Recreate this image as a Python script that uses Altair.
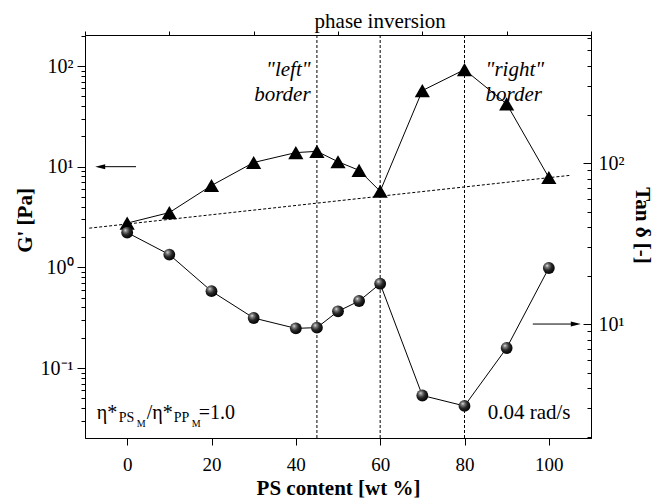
import altair as alt
import pandas as pd

# ---- data ----
ps_content = [0, 10, 20, 30, 40, 45, 50, 55, 60, 70, 80, 90, 100]
g_prime = [2.75, 3.5, 6.5, 11.0, 13.8, 14.2, 11.2, 9.2, 5.7, 57, 92, 42, 7.8]
tan_delta = [37, 27, 16, 10.9, 9.4, 9.5, 12.0, 13.9, 17.8, 3.6, 3.1, 7.1, 22.3]

border_x = [45, 60, 80]
mix_x = [-9, 105]
mix_g = [2.45, 8.2]

left_arrow_x = [-6.4, 2.1]
left_arrow_y = [10]
right_arrow_x = [96.2, 106.4]
right_arrow_y = [10]

top_label = ["phase inversion"]
top_label_x = [60]
top_label_y = [273]

left_border_text = ['"left"', "border"]
left_border_x = [43.5, 43.5]
left_border_y = [91, 51.5]
right_border_text = ['"right"', "border"]
right_border_x = [85, 85]
right_border_y = [91, 51.5]

freq_text = ["0.04 rad/s"]
freq_x = [85.5]
freq_y = [0.0358]

eta_x = [-7.2]
eta_y = [0.0358]
eta_pieces = ["η*", "PS", "M", "/η*", "PP", "M", "=1.0"]

x_major = [0, 20, 40, 60, 80, 100]
x_minor = [-10, 10, 30, 50, 70, 90, 110]
yl_dom = [10 ** -1.695, 10 ** 2.308]
yr_dom = [1.96, 624]
left_major = [0.1, 1, 10, 100]
left_minor = [m * 10.0 ** e for e in range(-2, 3) for m in range(2, 10)]
left_minor = [v for v in left_minor if yl_dom[0] <= v <= yl_dom[1]]
right_major = [10, 100]
right_minor = [m * 10.0 ** e for e in range(0, 3) for m in range(2, 10)]
right_minor = [v for v in right_minor if yr_dom[0] <= v <= yr_dom[1]]

# ---- styles ----
FONT = "Liberation Serif"
eta_dx = [0, 22, 40, 50, 77, 95, 102]
eta_dy = [0, 5, 11, 0, 5, 11, 0]
eta_size = [20, 14, 10, 20, 14, 10, 20]

xs = alt.Scale(domain=[-10, 110], nice=False, zero=False)
yls = alt.Scale(type="log", domain=yl_dom, nice=False)
yrs = alt.Scale(type="log", domain=yr_dom, nice=False)

lg = "round(log(datum.value)/LN10)"
log_label = (f"'10' + ({lg} == -1 ? '⁻¹' : {lg} == 0 ? '⁰' : "
             f"{lg} == 1 ? '¹' : {lg} == 2 ? '²' : '')")

common = dict(grid=False, domainColor="black", tickColor="black",
              labelFont=FONT, labelColor="black", labelFontSize=20,
              labelOverlap=False, labelFlush=False,
              titleFont=FONT, titleFontSize=21, titleFontWeight="bold",
              titleColor="black")

x_axis = alt.Axis(values=x_major, title="PS content [wt %]", tickSize=7,
                  labelPadding=10, titleY=50, titleBaseline="middle",
                  **{**common, "labelFontSize": 19})
x_axis_minor = alt.Axis(values=x_minor, title=None, labels=False, domain=False,
                        tickSize=4, grid=False, tickColor="black")
yl_axis = alt.Axis(values=left_major, title="G' [Pa]", orient="left",
                   labelExpr=log_label, tickSize=8, labelPadding=4,
                   titleX=-60, titleY=185, titleBaseline="middle", titleAngle=-90,
                   **common)
yl_axis_minor = alt.Axis(values=left_minor, title=None, orient="left", labels=False,
                         domain=False, tickSize=4, grid=False, tickColor="black")
yr_axis = alt.Axis(values=right_major, title="Tan δ [-]", orient="right",
                   labelExpr=log_label, tickSize={"expr": "-8"}, labelPadding=15,
                   titleX=50, titleY=190, titleBaseline="middle", titleAngle=90,
                   **common)
yr_axis_minor = alt.Axis(values=right_minor, title=None, orient="right", labels=False,
                         domain=False, tickSize={"expr": "-4"}, grid=False,
                         tickColor="black")

main = pd.DataFrame({"ps": ps_content, "g": g_prime, "tan": tan_delta})
base = alt.Chart(main)

# ---- G' (left axis) ----
tri_line = base.mark_line(color="black", strokeWidth=1).encode(
    x=alt.X("ps:Q", scale=xs, axis=x_axis),
    y=alt.Y("g:Q", scale=yls, axis=yl_axis),
)
tri_minor = base.mark_point(opacity=0).encode(
    x=alt.X("ps:Q", scale=xs, axis=x_axis_minor),
    y=alt.Y("g:Q", scale=yls, axis=yl_axis_minor),
)
tri_pts = base.mark_point(
    shape="triangle-up", filled=True, color="black", size=230, opacity=1
).encode(
    x=alt.X("ps:Q", scale=xs, axis=None),
    y=alt.Y("g:Q", scale=yls, axis=None),
)
mix = alt.Chart(pd.DataFrame({"x": mix_x, "g": mix_g})).mark_line(
    color="black", strokeWidth=1, strokeDash=[3, 2]
).encode(
    x=alt.X("x:Q", scale=xs, axis=None),
    y=alt.Y("g:Q", scale=yls, axis=None),
)
vlines = alt.Chart(pd.DataFrame({"x": border_x})).mark_rule(
    color="black", strokeWidth=1, strokeDash=[3, 2]
).encode(x=alt.X("x:Q", scale=xs, axis=None))

la = pd.DataFrame({"x": [left_arrow_x[0]], "x2": [left_arrow_x[1]], "y": left_arrow_y})
l_shaft = alt.Chart(la).mark_rule(color="black", strokeWidth=1).encode(
    x=alt.X("x:Q", scale=xs, axis=None), x2="x2:Q",
    y=alt.Y("y:Q", scale=yls, axis=None),
)
l_head = alt.Chart(la).mark_point(
    shape="M-1,0L1,-0.5L1,0.5Z", filled=True, color="black", size=100, opacity=1
).encode(
    x=alt.X("x:Q", scale=xs, axis=None),
    y=alt.Y("y:Q", scale=yls, axis=None),
)

def txt(texts, xv, yv, align, style, scale, size=21, dx=0, dy=0):
    df = pd.DataFrame({"x": xv, "y": yv, "t": texts})
    return alt.Chart(df).mark_text(
        font=FONT, fontSize=size, fontStyle=style, align=align,
        baseline="middle", color="black", dx=dx, dy=dy,
    ).encode(
        x=alt.X("x:Q", scale=xs, axis=None),
        y=alt.Y("y:Q", scale=scale, axis=None),
        text="t:N",
    )

t_top = txt(top_label, top_label_x, top_label_y, "center", "normal", yls)
t_lb = txt(left_border_text, left_border_x, left_border_y, "right", "italic", yls)
t_rb = txt(right_border_text, right_border_x, right_border_y, "left", "italic", yls)
t_fr = txt(freq_text, freq_x, freq_y, "left", "normal", yls)
eta_layers = [
    txt([p], eta_x, eta_y, "left", "normal", yls, size=s, dx=d, dy=v)
    for p, d, v, s in zip(eta_pieces, eta_dx, eta_dy, eta_size)
]

# ---- tan delta (right axis) ----
sphere = {
    "gradient": "radial",
    "x1": 0.35, "y1": 0.3, "r1": 0.0,
    "x2": 0.4, "y2": 0.38, "r2": 0.65,
    "stops": [
        {"offset": 0.0, "color": "#f2f2f2"},
        {"offset": 0.18, "color": "#8a8a8a"},
        {"offset": 0.55, "color": "#262626"},
        {"offset": 1.0, "color": "#000000"},
    ],
}
circ_line = base.mark_line(color="black", strokeWidth=1).encode(
    x=alt.X("ps:Q", scale=xs, axis=None),
    y=alt.Y("tan:Q", scale=yrs, axis=yr_axis),
)
circ_minor = base.mark_point(opacity=0).encode(
    x=alt.X("ps:Q", scale=xs, axis=None),
    y=alt.Y("tan:Q", scale=yrs, axis=yr_axis_minor),
)
circ_pts = base.mark_point(
    shape="circle", filled=True, fill=sphere, size=140, opacity=1, strokeWidth=0
).encode(
    x=alt.X("ps:Q", scale=xs, axis=None),
    y=alt.Y("tan:Q", scale=yrs, axis=None),
)
ra = pd.DataFrame({"x": [right_arrow_x[0]], "x2": [right_arrow_x[1]], "y": right_arrow_y})
r_shaft = alt.Chart(ra).mark_rule(color="black", strokeWidth=1).encode(
    x=alt.X("x:Q", scale=xs, axis=None), x2="x2:Q",
    y=alt.Y("y:Q", scale=yrs, axis=None),
)
r_head = alt.Chart(ra).mark_point(
    shape="M1,0L-1,-0.5L-1,0.5Z", filled=True, color="black", size=100, opacity=1
).encode(
    x=alt.X("x2:Q", scale=xs, axis=None),
    y=alt.Y("y:Q", scale=yrs, axis=None),
)

chart = alt.layer(
    vlines, mix, tri_line, tri_minor, tri_pts, l_shaft, l_head,
    t_top, t_lb, t_rb, t_fr, *eta_layers,
    circ_line, circ_minor, circ_pts, r_shaft, r_head,
).resolve_scale(y="independent").resolve_axis(
    x="independent", y="independent"
).properties(
    width=506, height=403,
    autosize=alt.AutoSizeParams(type="none"),
    padding={"left": 85, "top": 35, "right": 63, "bottom": 60},
    background="white",
).configure_view(stroke="black", strokeWidth=1).configure_axis(
    domainWidth=1, tickWidth=1
)

chart.save("out.html", embed_options={"renderer": "svg", "actions": False})
